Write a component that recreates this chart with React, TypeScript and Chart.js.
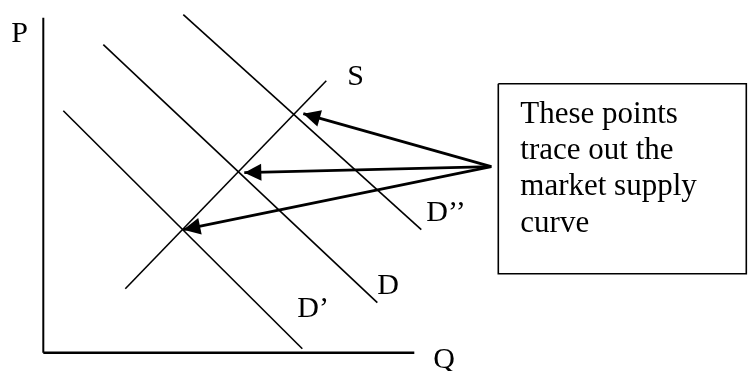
import React, { useEffect, useRef } from "react";
import { Chart, registerables } from "chart.js";

Chart.register(...registerables);

// Coordinates are in chart data units (Q across, P up), origin at the axes corner.
const AXIS_P = [{ x: 0, y: 0 }, { x: 0, y: 33.5 }];
const AXIS_Q = [{ x: 0, y: 0 }, { x: 37.1, y: 0 }];
const SUPPLY_S = [{ x: 8.2, y: 6.4 }, { x: 28.3, y: 27.2 }];
const DEMAND_D_PRIME = [{ x: 2.0, y: 24.2 }, { x: 25.9, y: 0.4 }];
const DEMAND_D = [{ x: 6.0, y: 30.8 }, { x: 33.4, y: 5.0 }];
const DEMAND_D_DOUBLE = [{ x: 14.0, y: 33.8 }, { x: 37.8, y: 12.3 }];
const ARROW_FROM = { x: 44.8, y: 18.6 };
const ARROW_TIPS = [{ x: 26.0, y: 23.9 }, { x: 20.1, y: 18.0 }, { x: 14.0, y: 12.3 }];
const NOTE_BOX = [
  { x: 45.5, y: 26.9 },
  { x: 70.3, y: 26.9 },
  { x: 70.3, y: 7.9 },
  { x: 45.5, y: 7.9 },
  { x: 45.5, y: 26.9 },
];
const NOTE_LINES = ["These points", "trace out the", "market supply", "curve"];
const NOTE_ANCHORS = [
  { x: 47.7, y: 23.0 },
  { x: 47.7, y: 19.35 },
  { x: 47.7, y: 15.75 },
  { x: 47.7, y: 12.1 },
];
const CURVE_LABELS = ["P", "Q", "S", "D\u2019", "D", "D\u2019\u2019"];
const CURVE_LABEL_ANCHORS = [
  { x: -3.2, y: 31.1 },
  { x: 39.0, y: -1.5 },
  { x: 30.4, y: 26.8 },
  { x: 25.4, y: 3.6 },
  { x: 33.4, y: 5.9 },
  { x: 38.3, y: 13.2 },
];

const X_MIN = -4.33;
const X_MAX = 70.47;
const Y_MIN = -1.83;
const Y_MAX = 35.27;

const SERIF = '"Liberation Serif", "Times New Roman", Times, serif';

const overlayPlugin = {
  id: "overlay",
  afterDatasetsDraw(chart: any) {
    const { ctx } = chart;
    const xs = chart.scales.x;
    const ys = chart.scales.y;
    ctx.save();
    ctx.fillStyle = "#000";
    const fx = xs.getPixelForValue(ARROW_FROM.x);
    const fy = ys.getPixelForValue(ARROW_FROM.y);
    const L = 17;
    const W = 8.5;
    ARROW_TIPS.forEach((t) => {
      const tx = xs.getPixelForValue(t.x);
      const ty = ys.getPixelForValue(t.y);
      const a = Math.atan2(ty - fy, tx - fx);
      const c = Math.cos(a);
      const s = Math.sin(a);
      ctx.beginPath();
      ctx.moveTo(tx, ty);
      ctx.lineTo(tx - L * c + W * s, ty - L * s - W * c);
      ctx.lineTo(tx - L * c - W * s, ty - L * s + W * c);
      ctx.closePath();
      ctx.fill();
    });
    ctx.textAlign = "left";
    ctx.textBaseline = "alphabetic";
    ctx.font = `30px ${SERIF}`;
    CURVE_LABELS.forEach((txt, i) => {
      const p = CURVE_LABEL_ANCHORS[i];
      ctx.fillText(txt, xs.getPixelForValue(p.x), ys.getPixelForValue(p.y));
    });
    ctx.font = `31px ${SERIF}`;
    NOTE_LINES.forEach((txt, i) => {
      const p = NOTE_ANCHORS[i];
      ctx.fillText(txt, xs.getPixelForValue(p.x), ys.getPixelForValue(p.y));
    });
    ctx.restore();
  },
};

function lineSet(data: { x: number; y: number }[], width: number) {
  return {
    data,
    showLine: true,
    borderColor: "#000",
    backgroundColor: "#000",
    borderWidth: width,
    pointRadius: 0,
    pointHoverRadius: 0,
    fill: false,
    tension: 0,
    borderJoinStyle: "miter" as const,
    borderCapStyle: "butt" as const,
  };
}

export default function App() {
  const ref = useRef<HTMLCanvasElement | null>(null);

  useEffect(() => {
    document.body.style.margin = "0";
    const canvas = ref.current;
    if (!canvas) return;
    const datasets = [
      lineSet(AXIS_P, 2),
      lineSet(AXIS_Q, 2.5),
      lineSet(DEMAND_D_PRIME, 1.6),
      lineSet(DEMAND_D, 1.6),
      lineSet(DEMAND_D_DOUBLE, 1.6),
      lineSet(SUPPLY_S, 1.6),
      ...ARROW_TIPS.map((t) => lineSet([ARROW_FROM, t], 2.8)),
      lineSet(NOTE_BOX, 1.6),
    ];
    const chart = new Chart(canvas, {
      type: "scatter",
      data: { datasets },
      options: {
        animation: false,
        responsive: false,
        maintainAspectRatio: false,
        devicePixelRatio: 1,
        events: [],
        layout: { padding: 0 },
        plugins: {
          legend: { display: false },
          tooltip: { enabled: false },
          title: { display: false },
        },
        scales: {
          x: { type: "linear", display: false, min: X_MIN, max: X_MAX },
          y: { type: "linear", display: false, min: Y_MIN, max: Y_MAX },
        },
      },
      plugins: [overlayPlugin],
    });
    return () => chart.destroy();
  }, []);

  return (
    <div style={{ position: "absolute", left: 0, top: 0, width: 748, height: 371, background: "#fff" }}>
      <canvas ref={ref} width={748} height={371} style={{ display: "block", width: 748, height: 371 }} />
    </div>
  );
}
